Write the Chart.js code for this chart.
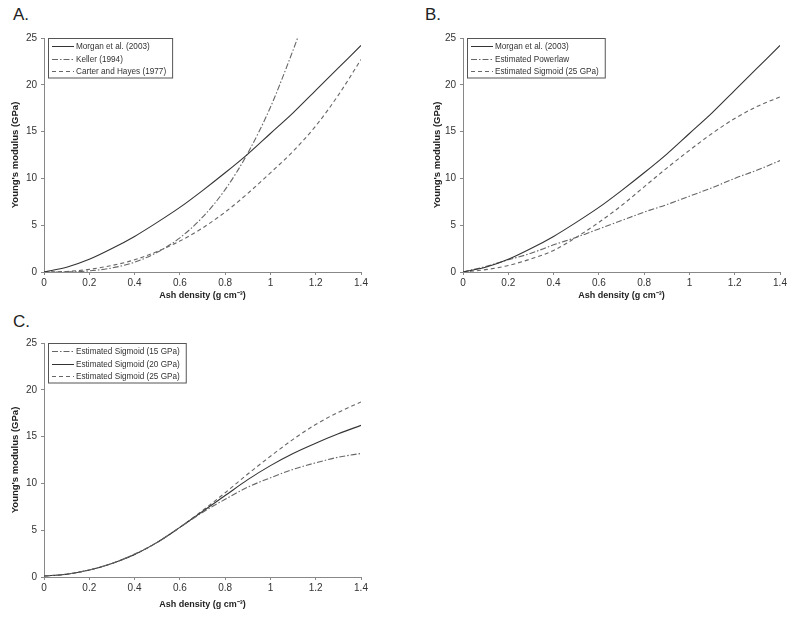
<!DOCTYPE html>
<html>
<head>
<meta charset="utf-8">
<script src="https://cdn.jsdelivr.net/npm/chart.js@4"></script>
<style>
  body { margin: 0; background: #fff; }
  #wrap { position: relative; width: 800px; height: 619px; }
  canvas { position: absolute; }
  .tag { position: absolute; font: 17px "Liberation Sans", Arial, sans-serif; color: #222; }
</style>
</head>
<body>
<div id="wrap">
  <div class="tag" style="left:13px; top:5px;">A.</div>
  <div class="tag" style="left:425px; top:5px;">B.</div>
  <div class="tag" style="left:13px; top:312px;">C.</div>
  <canvas id="chartA" width="400" height="310" style="left:0; top:0;"></canvas>
  <canvas id="chartB" width="400" height="310" style="left:400px; top:0;"></canvas>
  <canvas id="chartC" width="400" height="319" style="left:0; top:300px;"></canvas>
</div>
<script>
// values
const DENSITY = [0, 0.1, 0.2, 0.3, 0.4, 0.5, 0.6, 0.7, 0.8, 0.9, 1.0, 1.1, 1.2, 1.3, 1.4];
const X_TICKS = [0, 0.2, 0.4, 0.6, 0.8, 1, 1.2, 1.4];
const Y_TICKS = [0, 5, 10, 15, 20, 25];

const MORGAN = [0, 0.5, 1.35, 2.5, 3.8, 5.3, 6.9, 8.7, 10.6, 12.6, 14.8, 17.0, 19.4, 21.8, 24.2];

const KELLER_X = [0, 0.1, 0.2, 0.3, 0.4, 0.5, 0.6, 0.7, 0.8, 0.9, 1.0, 1.1, 1.12];
const KELLER = [0, 0.01, 0.12, 0.43, 1.05, 2.1, 3.65, 5.85, 8.8, 12.7, 17.6, 23.7, 25];

const CARTER_HAYES = [0, 0.06, 0.28, 0.7, 1.3, 2.2, 3.3, 4.7, 6.4, 8.4, 10.6, 12.9, 15.6, 18.9, 22.7];

const POWERLAW = [0, 0.59, 1.3, 2.0, 2.9, 3.7, 4.6, 5.5, 6.4, 7.2, 8.1, 9.0, 10.0, 10.9, 11.9];

const SIGMOID_25_B = [0, 0.25, 0.7, 1.4, 2.3, 3.7, 5.3, 7.1, 9.1, 11.1, 13.0, 14.8, 16.4, 17.7, 18.7];

const SIGMOID_15 = [0.1, 0.3, 0.75, 1.45, 2.45, 3.7, 5.3, 6.9, 8.3, 9.6, 10.6, 11.5, 12.2, 12.8, 13.2];
const SIGMOID_20 = [0.1, 0.3, 0.75, 1.45, 2.4, 3.7, 5.3, 7.0, 8.7, 10.4, 11.9, 13.2, 14.3, 15.3, 16.2];
const SIGMOID_25 = [0.1, 0.3, 0.75, 1.45, 2.4, 3.7, 5.3, 7.1, 9.0, 11.0, 12.9, 14.7, 16.3, 17.6, 18.7];

const FONT = '"Liberation Sans", Arial, sans-serif';
const SOLID = [];
const DASHED = [4, 3];
const DASHDOT = [6, 2, 1.5, 2];

function pts(xs, ys) {
  return ys.map((y, i) => ({ x: xs[i], y }));
}

function series(label, xs, ys, dash, color) {
  return {
    label,
    data: pts(xs, ys),
    borderColor: color,
    borderWidth: 1.1,
    borderDash: dash,
    pointRadius: 0,
    fill: false,
    tension: 0.4,
    cubicInterpolationMode: "monotone",
  };
}

// legend drawn as a bordered box in the top-left corner of the plot
const boxLegend = {
  id: "boxLegend",
  afterDraw(chart) {
    const ctx = chart.ctx;
    const area = chart.chartArea;
    const sets = chart.data.datasets;
    ctx.save();
    ctx.font = "8.2px " + FONT;
    let maxW = 0;
    sets.forEach((ds) => (maxW = Math.max(maxW, ctx.measureText(ds.label).width)));
    const x0 = area.left + 4;
    const y0 = area.top;
    const rowH = 12.5;
    const w = 30 + maxW + 4;
    const h = sets.length * rowH + 2;
    ctx.fillStyle = "#fff";
    ctx.fillRect(x0, y0, w, h);
    ctx.strokeStyle = "#555";
    ctx.lineWidth = 1;
    ctx.strokeRect(x0 + 0.5, y0 + 0.5, w, h);
    sets.forEach((ds, i) => {
      const cy = Math.round(y0 + 8 + i * rowH) + 0.5;
      ctx.beginPath();
      ctx.setLineDash(ds.borderDash || []);
      ctx.strokeStyle = ds.borderColor;
      ctx.moveTo(x0 + 4, cy);
      ctx.lineTo(x0 + 26, cy);
      ctx.stroke();
      ctx.setLineDash([]);
      ctx.fillStyle = "#333";
      ctx.textBaseline = "middle";
      ctx.fillText(ds.label, x0 + 28, cy);
    });
    ctx.restore();
  },
};

function makeChart(id, datasets, box) {
  return new Chart(document.getElementById(id), {
    type: "line",
    data: { datasets },
    plugins: [boxLegend],
    options: {
      responsive: false,
      animation: false,
      layout: { padding: { left: box.padLeft, right: box.padRight, top: box.padTop, bottom: 0 } },
      plugins: { legend: { display: false }, tooltip: { enabled: false } },
      scales: {
        x: {
          type: "linear",
          min: 0,
          max: 1.4,
          afterBuildTicks: (s) => { s.ticks = X_TICKS.map((v) => ({ value: v })); },
          afterFit: (s) => { s.height = box.xHeight; },
          grid: { drawOnChartArea: false, tickLength: 3, color: "#888" },
          border: { color: "#888" },
          ticks: {
            color: "#333",
            font: { family: FONT, size: 10 },
            padding: 2,
            maxRotation: 0,
            callback: (v) => String(v),
          },
          title: {
            display: true,
            text: "Ash density (g cm⁻³)",
            color: "#222",
            font: { family: FONT, size: 9, weight: "bold" },
            padding: { top: 0, bottom: 9 },
          },
        },
        y: {
          min: 0,
          max: 25,
          afterBuildTicks: (s) => { s.ticks = Y_TICKS.map((v) => ({ value: v })); },
          afterFit: (s) => { s.width = box.yWidth; },
          grid: { drawOnChartArea: false, tickLength: 3, color: "#888" },
          border: { color: "#888" },
          ticks: { color: "#333", font: { family: FONT, size: 10 }, padding: 4 },
          title: {
            display: true,
            text: "Young's modulus (GPa)",
            color: "#222",
            font: { family: FONT, size: 9.5, weight: "bold" },
            padding: { top: 10, bottom: 0 },
          },
        },
      },
    },
  });
}

makeChart("chartA", [
  series("Morgan et al. (2003)", DENSITY, MORGAN, SOLID, "#333"),
  series("Keller (1994)", KELLER_X, KELLER, DASHDOT, "#666"),
  series("Carter and Hayes (1977)", DENSITY, CARTER_HAYES, DASHED, "#666"),
], { padLeft: 0, padRight: 39, padTop: 38, xHeight: 38, yWidth: 44 });

makeChart("chartB", [
  series("Morgan et al. (2003)", DENSITY, MORGAN, SOLID, "#333"),
  series("Estimated Powerlaw", DENSITY, POWERLAW, DASHDOT, "#666"),
  series("Estimated Sigmoid (25 GPa)", DENSITY, SIGMOID_25_B, DASHED, "#666"),
], { padLeft: 22, padRight: 20, padTop: 38, xHeight: 38, yWidth: 41 });

makeChart("chartC", [
  series("Estimated Sigmoid (15 GPa)", DENSITY, SIGMOID_15, DASHDOT, "#666"),
  series("Estimated Sigmoid (20 GPa)", DENSITY, SIGMOID_20, SOLID, "#333"),
  series("Estimated Sigmoid (25 GPa)", DENSITY, SIGMOID_25, DASHED, "#666"),
], { padLeft: 0, padRight: 39, padTop: 43, xHeight: 42, yWidth: 44 });
</script>
</body>
</html>
